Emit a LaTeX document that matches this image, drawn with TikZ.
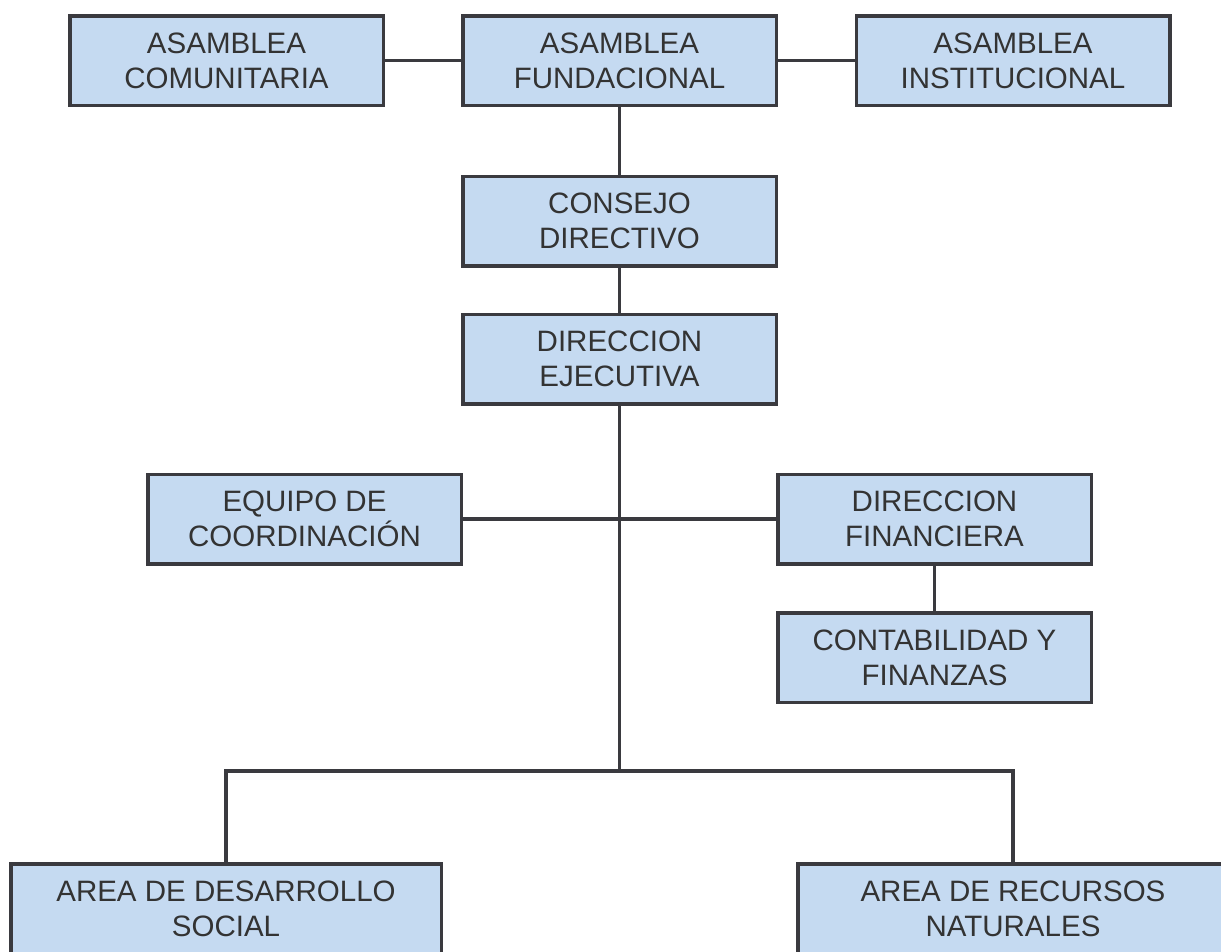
\documentclass[tikz,border=0pt]{standalone}
\usepackage{fontspec}
\setmainfont{Liberation Sans}
\definecolor{boxfill}{HTML}{C5DAF1}
\definecolor{boxline}{HTML}{3A3A3F}
\definecolor{txt}{HTML}{333333}
\begin{document}
\begin{tikzpicture}[x=1pt,y=1pt,
  orgbox/.style={draw=boxline, fill=boxfill, line width=3.5pt, rectangle,
    minimum width=313.5pt, minimum height=89.5pt, inner sep=0pt,
    align=center, text=txt, font=\fontsize{29.5}{35}\selectfont},
  widebox/.style={orgbox, minimum width=430.5pt},
  conn/.style={draw=boxline, line width=3.8pt}]
\useasboundingbox (0,0) rectangle (1221,-951);
\fill[white] (0,0) rectangle (1221,-951);
\node[orgbox] (ac) at (226.5,-60.5) {ASAMBLEA\\COMUNITARIA};
\node[orgbox] (af) at (619.5,-60.5) {ASAMBLEA\\FUNDACIONAL};
\node[orgbox] (ai) at (1013,-60.5) {ASAMBLEA\\INSTITUCIONAL};
\node[orgbox] (cd) at (619.5,-221) {CONSEJO\\DIRECTIVO};
\node[orgbox] (de) at (619.5,-359) {DIRECCION\\EJECUTIVA};
\node[orgbox] (ec) at (304.5,-519) {EQUIPO DE\\COORDINACIÓN};
\node[orgbox] (df) at (934.5,-519) {DIRECCION\\FINANCIERA};
\node[orgbox] (cf) at (934.5,-657.5) {CONTABILIDAD Y\\FINANZAS};
\node[widebox] (ads) at (226,-908.5) {AREA DE DESARROLLO\\SOCIAL};
\node[widebox] (arn) at (1013,-908.5) {AREA DE RECURSOS\\NATURALES};
\coordinate (bus) at (619.5,-771);
\begin{scope}[on background layer/.style={}]
\end{scope}
\draw[conn] (ac.east) -- (af.west);
\draw[conn] (af.east) -- (ai.west);
\draw[conn] (af.south) -- (cd.north);
\draw[conn] (cd.south) -- (de.north);
\draw[conn] (de.south) -- (bus);
\draw[conn] (ec.east) -- (df.west);
\draw[conn] (df.south) -- (cf.north);
\draw[conn] (ads.north) |- (bus) -| (arn.north);
\end{tikzpicture}
\end{document}
